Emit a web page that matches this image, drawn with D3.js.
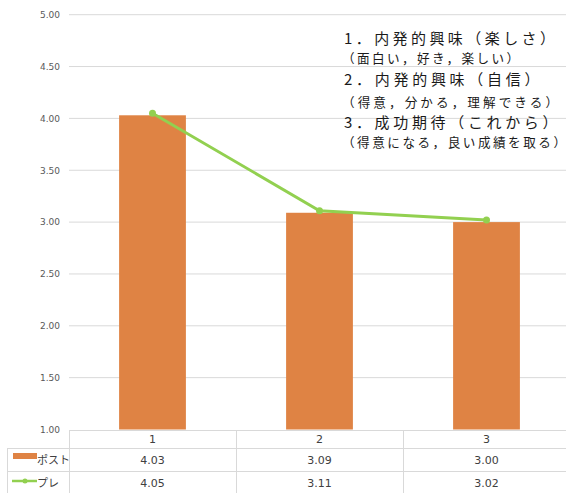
<!DOCTYPE html>
<html>
<head>
<meta charset="utf-8">
<script src="https://cdn.jsdelivr.net/npm/d3@7"></script>
<style>
html,body{margin:0;padding:0;background:#fff;}
svg{display:block;}
</style>
</head>
<body>
<svg id="chart" width="566" height="493"></svg>
<script>
const categories = ["1", "2", "3"];
const postValues = [4.03, 3.09, 3.00];
const preValues = [4.05, 3.11, 3.02];
const seriesNames = ["ポスト", "プレ"];
const yTicks = [1.00, 1.50, 2.00, 2.50, 3.00, 3.50, 4.00, 4.50, 5.00];
const noteLines = [
  "1．内発的興味（楽しさ）",
  "（面白い，好き，楽しい）",
  "2．内発的興味（自信）",
  "（得意，分かる，理解できる）",
  "3．成功期待（これから）",
  "（得意になる，良い成績を取る）"
];

const svg = d3.select("#chart");
const W = 566, H = 493;
const plotLeft = 69, plotRight = 570, plotTop = 14.7, plotBottom = 429.5;
const barColor = "#DF8344", lineColor = "#92D050", gridColor = "#d9d9d9";
const numFont = "'DejaVu Sans', Verdana, sans-serif";
const jpFont = "'Noto Sans CJK JP', 'Noto Sans', sans-serif";

const x = d3.scaleBand().domain(categories).range([plotLeft, plotRight]).paddingInner(0).paddingOuter(0);
const y = d3.scaleLinear().domain([1, 5]).range([plotBottom, plotTop]);

// axis labels and gridlines
const yAxis = d3.axisLeft(y).tickValues(yTicks).tickFormat(d3.format(".2f")).tickSize(0).tickPadding(9);
const gAxis = svg.append("g").attr("transform", `translate(${plotLeft},0)`).call(yAxis);
gAxis.select(".domain").remove();
gAxis.selectAll("text").attr("font-family", numFont).attr("font-size", 9).attr("fill", "#595959");
svg.append("g").selectAll("line").data(yTicks.filter(t => t > 1)).join("line")
  .attr("x1", plotLeft).attr("x2", W).attr("y1", d => y(d)).attr("y2", d => y(d))
  .attr("stroke", gridColor).attr("stroke-width", 1);

// bars
const bw = x.bandwidth() * 0.4;
svg.append("g").selectAll("rect").data(postValues).join("rect")
  .attr("x", (d, i) => x(categories[i]) + (x.bandwidth() - bw) / 2)
  .attr("y", d => y(d))
  .attr("width", bw)
  .attr("height", d => y(1) - y(d))
  .attr("fill", barColor);

// line
const cx = (d, i) => x(categories[i]) + x.bandwidth() / 2;
svg.append("path").datum(preValues)
  .attr("d", d3.line().x(cx).y(d => y(d)))
  .attr("fill", "none").attr("stroke", lineColor).attr("stroke-width", 3);
svg.append("g").selectAll("circle").data(preValues).join("circle")
  .attr("cx", cx).attr("cy", d => y(d)).attr("r", 3.5).attr("fill", lineColor);

// data table
const tTop = 430.5, r1 = 448, r2 = 471, tBottom = H;
const tg = svg.append("g").attr("stroke", gridColor).attr("stroke-width", 1);
tg.append("line").attr("x1", plotLeft).attr("x2", W).attr("y1", tTop).attr("y2", tTop);
[r1, r2].forEach(yy => tg.append("line").attr("x1", 7).attr("x2", W).attr("y1", yy + 0.5).attr("y2", yy + 0.5));
tg.append("line").attr("x1", 7.5).attr("x2", 7.5).attr("y1", r1).attr("y2", tBottom);
categories.forEach(c => {
  const xx = Math.round(x(c)) + 0.5;
  tg.append("line").attr("x1", xx).attr("x2", xx).attr("y1", tTop).attr("y2", tBottom);
});

const txt = svg.append("g").attr("font-family", numFont).attr("font-size", 11).attr("fill", "#404040").attr("text-anchor", "middle");
categories.forEach((c, i) => {
  const mx = x(c) + x.bandwidth() / 2;
  txt.append("text").attr("x", mx).attr("y", (tTop + r1) / 2).attr("dy", "0.36em").text(c);
  txt.append("text").attr("x", mx).attr("y", (r1 + r2) / 2 + 1).attr("dy", "0.36em").text(postValues[i].toFixed(2));
  txt.append("text").attr("x", mx).attr("y", (r2 + tBottom) / 2 + 1).attr("dy", "0.36em").text(preValues[i].toFixed(2));
});

// legend keys
svg.append("rect").attr("x", 13).attr("y", 453).attr("width", 24).attr("height", 6).attr("fill", barColor);
svg.append("line").attr("x1", 12).attr("x2", 37).attr("y1", 481).attr("y2", 481).attr("stroke", lineColor).attr("stroke-width", 2.5);
svg.append("circle").attr("cx", 25).attr("cy", 481).attr("r", 2.5).attr("fill", lineColor);
const lg = svg.append("g").attr("font-family", jpFont).attr("font-size", 11).attr("fill", "#404040");
lg.append("text").attr("x", 37).attr("y", (r1 + r2) / 2 + 1).attr("dy", "0.36em").text(seriesNames[0]);
lg.append("text").attr("x", 37).attr("y", (r2 + tBottom) / 2 + 1).attr("dy", "0.36em").text(seriesNames[1]);

// annotation: one text block with a line per tspan
const noteX = [344, 342, 344, 342, 344, 342];
const noteY = [38.5, 58.5, 80, 102.5, 122.5, 142.5];
const noteLen = [211, 177, 195.5, 216, 213.5, 224];
const noteSize = [15, 12.6, 15, 12.6, 15, 12.6];
const note = svg.append("text").attr("font-family", jpFont).attr("fill", "#1a1a1a");
noteLines.forEach((t, i) => {
  note.append("tspan").attr("x", noteX[i]).attr("y", noteY[i]).attr("dy", "0.36em")
    .attr("font-size", noteSize[i])
    .attr("textLength", noteLen[i]).attr("lengthAdjust", "spacing")
    .text(t);
});
</script>
</body>
</html>
